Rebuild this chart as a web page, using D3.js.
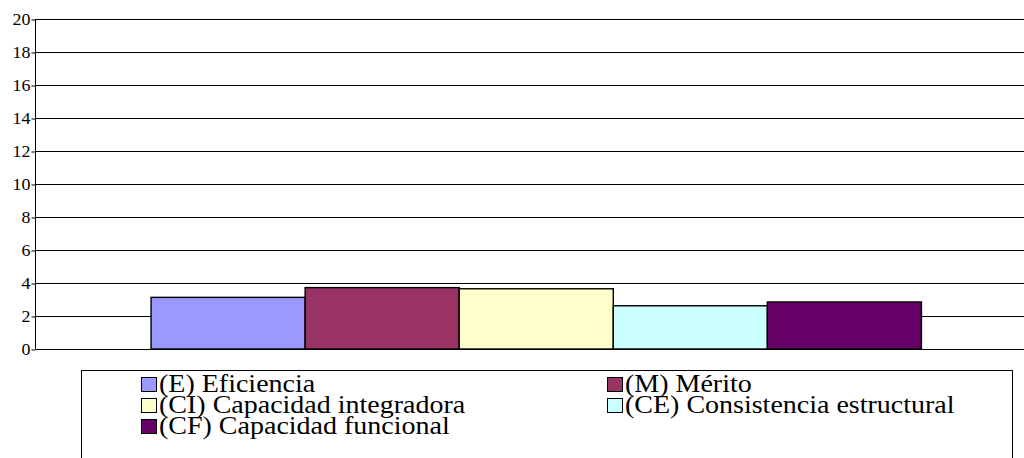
<!DOCTYPE html>
<html lang="es">
<head>
<meta charset="utf-8">
<title>chart</title>
<script src="https://d3js.org/d3.v7.min.js"></script>
<style>
html,body {margin:0; padding:0; background:#fff;}
svg {display:block;}
</style>
</head>
<body>
<script>
// one group, five indicators
var series = ['(E) Eficiencia', '(M) Mérito', '(CI) Capacidad integradora', '(CE) Consistencia estructural', '(CF) Capacidad funcional']
var values = [3.13, 3.72, 3.65, 2.62, 2.85]
var colors = ['#9999ff', '#993366', '#ffffcc', '#ccffff', '#660066']
var yTicks = [0, 2, 4, 6, 8, 10, 12, 14, 16, 18, 20]

var FONT = "'Liberation Serif', 'Times New Roman', Times, serif"
var SX = 1.12  // the original picture is a little stretched sideways
var W = 1024, H = 458
var plot = {left: 35.5, right: 1037, top: 19, bottom: 349}

var svg = d3.select('body').append('svg').attr('width', W).attr('height', H)

var y = d3.scaleLinear().domain([0, 20]).range([plot.bottom, plot.top])
var group = d3.scaleBand().domain(['g']).range([plot.left, plot.right]).paddingInner(0).paddingOuter(0.15)
var x = d3.scaleBand().domain(series).range([group('g'), group('g') + group.bandwidth()])

// gridlines
svg.append('g').selectAll('line').data(yTicks.filter(function(d){return d > 0})).join('line')
  .attr('x1', plot.left).attr('x2', plot.right)
  .attr('y1', function(d){return Math.round(y(d)) + 0.5}).attr('y2', function(d){return Math.round(y(d)) + 0.5})
  .attr('stroke', '#000').attr('stroke-width', 1)

// bars
svg.append('g').selectAll('rect').data(values).join('rect')
  .attr('x', function(d,i){return x(series[i])})
  .attr('width', x.bandwidth())
  .attr('y', function(d){return y(d)})
  .attr('height', function(d){return y(0) - y(d)})
  .attr('fill', function(d,i){return colors[i]})
  .attr('stroke', '#000').attr('stroke-width', 1.4)

// y axis
var yAxis = d3.axisLeft(y).tickValues(yTicks).tickSize(4).tickPadding(1)
var ga = svg.append('g').attr('transform', 'translate(' + plot.left + ',0.5)').call(yAxis)
ga.attr('font-family', FONT).attr('font-size', 16)
ga.selectAll('.tick text').attr('fill', '#000').attr('x', -5 / SX).attr('dy', '0.34em')
  .attr('transform', 'scale(' + SX + ',1)')
ga.selectAll('line').attr('stroke', '#000')
ga.select('.domain').attr('stroke', '#000').attr('d', 'M0,' + (plot.top - 0.5) + 'V' + (plot.bottom - 0.5))

// x axis baseline
svg.append('line').attr('x1', plot.left).attr('x2', plot.right)
  .attr('y1', Math.round(y(0)) + 0.5).attr('y2', Math.round(y(0)) + 0.5)
  .attr('stroke', '#000')

// legend
var lg = svg.append('g').attr('font-family', FONT).attr('font-size', 25)
lg.append('rect').attr('x', 81.5).attr('y', 370.5).attr('width', 931).attr('height', 120)
  .attr('fill', '#fff').attr('stroke', '#000')
var colX = [141, 607], rowY = [392, 413, 434]
var items = lg.selectAll('g.item').data(series).join('g').attr('class', 'item')
  .attr('transform', function(d,i){return 'translate(' + colX[i % 2] + ',' + rowY[Math.floor(i / 2)] + ')'})
items.append('rect').attr('x', 0.5).attr('y', -14.5).attr('width', 15).attr('height', 14)
  .attr('fill', function(d,i){return colors[i]}).attr('stroke', '#000')
items.append('text').attr('transform', 'translate(18,0) scale(' + SX + ',1)')
  .attr('fill', '#000').text(function(d){return d})
</script>
</body>
</html>
